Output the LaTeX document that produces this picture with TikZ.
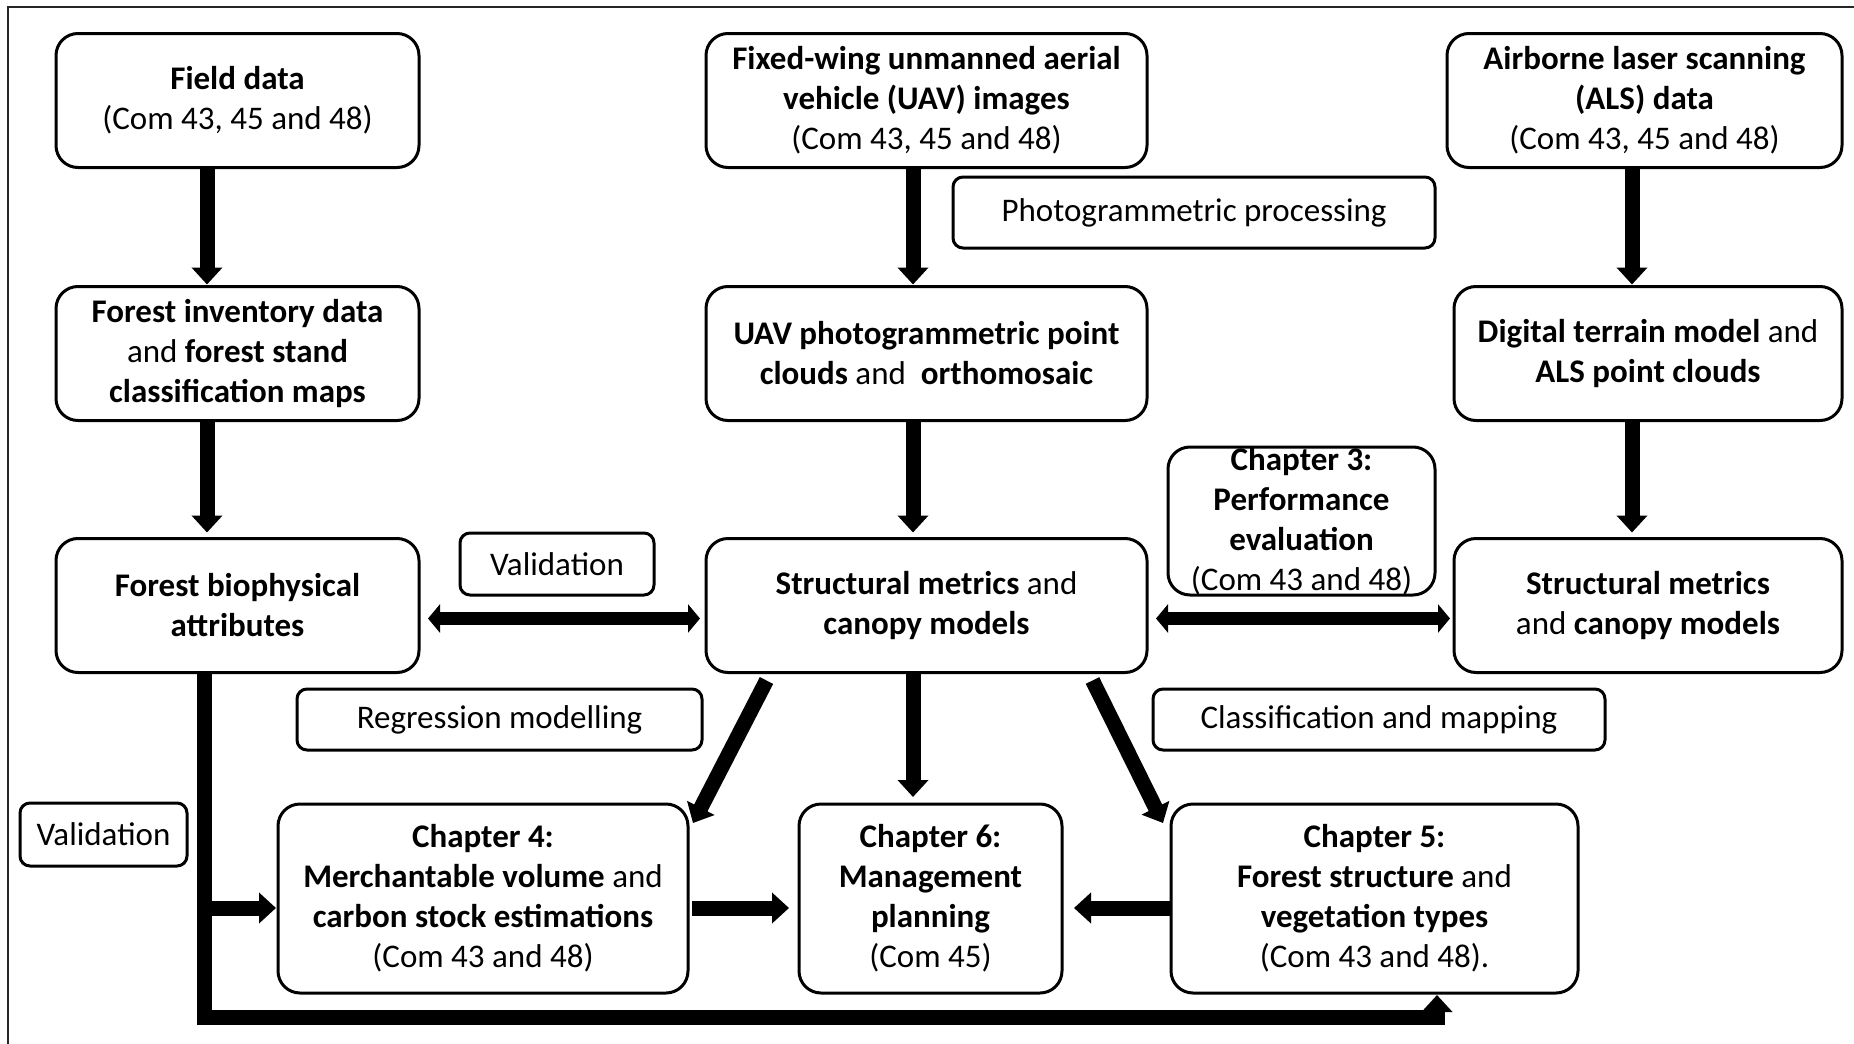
\documentclass[tikz,border=0pt]{standalone}
\usepackage{fontspec}
\setmainfont{Carlito}
\usetikzlibrary{positioning,arrows.meta}
\tikzset{
  box/.style={draw=black,line width=1.5pt,rounded corners=11pt,fill=white,align=center,
              inner sep=0pt,outer sep=0pt,minimum width=#1,minimum height=67pt},
  box/.default=181.5pt,
  chapbox/.style={box=#1,minimum height=94.5pt},
  notebox/.style={draw=black,line width=1.5pt,rounded corners=5pt,fill=white,align=center,
              inner sep=0pt,outer sep=0pt,minimum width=#1,minimum height=31pt},
  flow/.style={-{Triangle[length=8.5pt,width=15pt]},line width=7.5pt,shorten >=1pt},
  flowboth/.style={{Triangle[length=6pt,width=14pt]}-{Triangle[length=6pt,width=14pt]},line width=6.5pt},
  frameline/.style={draw=black!85,line width=1pt},
}

\begin{document}
\begin{tikzpicture}[x=0.5pt,y=-0.5pt,node distance=59.5pt,
    every node/.style={font=\fontsize{16.5}{20}\selectfont}]
  \useasboundingbox (0,0) rectangle (1854,1044);
  \draw[frameline] (8,1044) -- (8,7) -- (1854,7);
  % left column
  \node[box] (fd) at (237.5,100.5) {\textbf{Field data}\\(Com 43, 45 and 48)};
  \node[box, below=of fd] (inv) {\textbf{Forest inventory data}\\and \textbf{forest stand}\\\textbf{classification maps}};
  \node[box, below=59pt of inv] (bio) {\textbf{Forest biophysical}\\\textbf{attributes}};
  % middle column
  \node[box=220.5pt] (uav) at (926.5,100.5) {\textbf{Fixed-wing unmanned aerial}\\\textbf{vehicle (UAV) images}\\(Com 43, 45 and 48)};
  \node[box=220.5pt, below=of uav] (upc) {\textbf{UAV photogrammetric point}\\\textbf{clouds} and \ \textbf{orthomosaic}};
  \node[box=220.5pt, below=59pt of upc] (smu) {\textbf{Structural metrics} and\\\textbf{canopy models}};
  % right column
  \node[box=197.5pt] (als) at (1644.5,100.5) {\textbf{Airborne laser scanning}\\\textbf{(ALS) data}\\(Com 43, 45 and 48)};
  \node[box=194pt] (dtm) at (1648,353.5) {\textbf{Digital terrain model} and\\\textbf{ALS point clouds}};
  \node[box=194pt, below=59pt of dtm] (sma) {\textbf{Structural metrics}\\and \textbf{canopy models}};
  \node[box=133.5pt, minimum height=74pt] (ch3) at (1301.5,521) {\textbf{Chapter 3:}\\\textbf{Performance}\\\textbf{evaluation}\\(Com 43 and 48)};
  % notes on the connectors
  \node[notebox=241pt, minimum height=35.5pt] (pgp) at (1194,212.5) {Photogrammetric processing};
  \node[notebox=97pt] (val) at (557,564) {Validation};
  \node[notebox=202.5pt, minimum height=30.5pt] (reg) at (499.5,719.5) {Regression modelling};
  \node[notebox=226pt, minimum height=30.5pt] (cls) at (1379,719.5) {Classification and mapping};
  \node[notebox=83.5pt, minimum height=31.5pt] (valb) at (103.5,834.5) {Validation};
  % chapters
  \node[chapbox=205pt] (ch4) at (483,898.5) {\textbf{Chapter 4:}\\\textbf{Merchantable volume} and\\\textbf{carbon stock estimations}\\(Com 43 and 48)};
  \node[chapbox=131.5pt] (ch6) at (930.5,898.5) {\textbf{Chapter 6:}\\\textbf{Management}\\\textbf{planning}\\(Com 45)};
  \node[chapbox=203.5pt] (ch5) at (1374.5,898.5) {\textbf{Chapter 5:}\\\textbf{Forest structure} and\\\textbf{vegetation types}\\(Com 43 and 48).};
  % arrows
  \coordinate (xa) at (207,0);
  \coordinate (xb) at (913,0);
  \coordinate (xc) at (1632,0);
  \coordinate (xd) at (1437,0);
  \coordinate (xe) at (204,0);
  \coordinate (yv) at (0,908);
  \coordinate (yb) at (0,1017);
  \draw[flow] (fd.south -| xa) -- (inv.north -| xa);
  \draw[flow, shorten >=3pt] (inv.south -| xa) -- (bio.north -| xa);
  \draw[flow] (uav.south -| xb) -- (upc.north -| xb);
  \draw[flow, shorten >=3pt] (upc.south -| xb) -- (smu.north -| xb);
  \draw[flow] (als.south -| xc) -- (dtm.north -| xc);
  \draw[flow, shorten >=3pt] (dtm.south -| xc) -- (sma.north -| xc);
  \draw[flowboth, shorten <=4.5pt, shorten >=3pt] ([yshift=-6.5pt]bio.east) -- ([yshift=-6.5pt]smu.west);
  \draw[flowboth, shorten <=4.5pt, shorten >=2pt] ([yshift=-6.5pt]smu.east) -- ([yshift=-6.5pt]sma.west);
  \draw[flow, shorten >=0pt] ([xshift=-80pt,yshift=-4pt]smu.south) -- ([xshift=2.5pt,yshift=-9.5pt]ch4.north east);
  \draw[flow, shorten >=3.5pt] (smu.south -| xb) -- (ch6.north -| xb);
  \draw[flow, shorten >=0pt] ([xshift=83pt,yshift=-4pt]smu.south) -- ([xshift=-4pt,yshift=-9.5pt]ch5.north west);
  \draw[flow, shorten <=2pt, shorten >=5pt] (ch4.east |- yv) -- (ch6.west |- yv);
  \draw[flow, shorten >=6pt] (ch5.west |- yv) -- (ch6.east |- yv);
  \draw[flow, line join=miter] (bio.south -| xe) -- (xe |- yb) -| (ch5.south -| xd);
  \draw[flow] (xe |- yv) -- (ch4.west |- yv);
\end{tikzpicture}
\end{document}
